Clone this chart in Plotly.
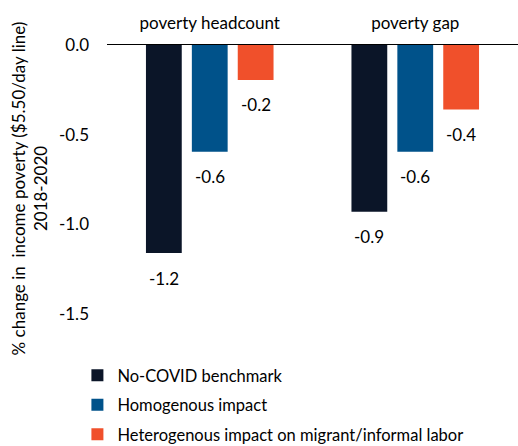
import plotly.graph_objects as go

categories = ["poverty headcount", "poverty gap"]
series_names = ["No-COVID benchmark", "Homogenous impact",
                "Heterogenous impact on migrant/informal labor"]
no_covid = [-1.16, -0.93]
homogenous = [-0.595, -0.595]
heterogenous = [-0.195, -0.36]
y_ticks = [0.0, -0.5, -1.0, -1.5]
y_tick_labels = ["0.0", "-0.5", "-1.0", "-1.5"]

colors = ["#0b1528", "#00528a", "#f0502b"]
FONT = "Lato"
FS = 17

fig = go.Figure()
all_series = [no_covid, homogenous, heterogenous]
for i, (name, vals) in enumerate(zip(series_names, all_series)):
    fig.add_trace(go.Bar(
        x=categories, y=vals, name=name,
        marker=dict(color=colors[i], line=dict(width=0)),
        legendgroup=f"g{i}",
    ))
    for cat, v in zip(categories, vals):
        fig.add_annotation(
            x=cat, y=v, text=f"{v:.1f}", showarrow=False,
            xshift=(i - 1) * 46, yshift=-25, yanchor="middle", xanchor="center",
            font=dict(size=FS, color="black", family=FONT),
        )

fig.update_layout(
    width=518, height=446,
    margin=dict(l=107, r=0, t=45, b=114),
    paper_bgcolor="white", plot_bgcolor="white",
    barmode="group", bargap=0.33, bargroupgap=0.22,
    font=dict(family=FONT, size=FS, color="black"),
    showlegend=True,
    legend=dict(orientation="v", x=-0.072, xanchor="left",
                yref="container", y=0.197, yanchor="top",
                tracegroupgap=5, font=dict(size=16.5, family=FONT),
                bgcolor="rgba(0,0,0,0)"),
    xaxis=dict(side="top", showline=True, linecolor="black", linewidth=1,
               ticks="", tickfont=dict(size=FS), showgrid=False,
               automargin=False, ticklabelstandoff=8),
    yaxis=dict(range=[-1.6, 0], tickvals=y_ticks, ticktext=y_tick_labels,
               showgrid=False, zeroline=False, showline=False, ticks="",
               tickfont=dict(size=FS), automargin=False, ticklabelstandoff=17,
               title=dict(text="% change in  income poverty ($5.50/day line)<br>2018-2020",
                          font=dict(size=FS), standoff=6)),
)

fig.write_html("out.html", config={"displayModeBar": False},
               post_script="document.body.style.margin='0';")
